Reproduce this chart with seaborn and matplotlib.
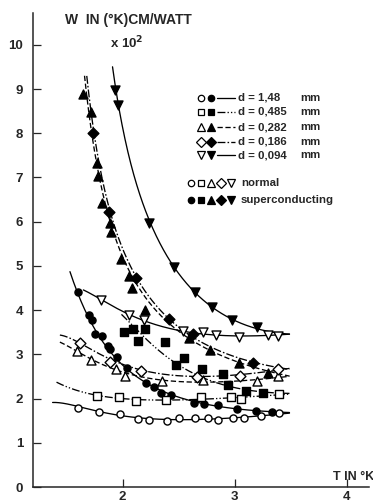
import numpy as np
import matplotlib
matplotlib.use("Agg")
import matplotlib.pyplot as plt
import seaborn as sns

sns.set_style("ticks")
plt.rcParams['font.family'] = ['Liberation Sans', 'DejaVu Sans']

# ---------------- data ----------------
# d = 1.48 mm
circ_open_T = [1.60, 1.79, 1.98, 2.14, 2.24, 2.40, 2.50, 2.65, 2.76, 2.85, 2.99, 3.08, 3.24, 3.40]
circ_open_W = [1.79, 1.70, 1.65, 1.53, 1.52, 1.49, 1.55, 1.55, 1.55, 1.52, 1.55, 1.55, 1.60, 1.68]
circ_fill_T = [1.60, 1.70, 1.73, 1.75, 1.82, 1.87, 1.89, 1.95, 2.04, 2.21, 2.28, 2.34, 2.43, 2.64, 2.73, 2.85, 3.02, 3.19, 3.33]
circ_fill_W = [4.40, 3.89, 3.77, 3.45, 3.42, 3.19, 3.11, 2.95, 2.70, 2.36, 2.26, 2.13, 2.08, 1.90, 1.88, 1.86, 1.77, 1.72, 1.69]
# d = 0.485 mm
sq_open_T = [1.77, 1.97, 2.12, 2.39, 2.70, 2.97, 3.06, 3.40]
sq_open_W = [2.05, 2.03, 1.94, 1.96, 2.04, 2.04, 1.98, 2.10]
sq_fill_T = [2.01, 2.09, 2.14, 2.20, 2.38, 2.48, 2.55, 2.71, 2.90, 2.94, 3.10, 3.25]
sq_fill_W = [3.51, 3.58, 3.30, 3.57, 3.27, 2.75, 2.91, 2.68, 2.55, 2.31, 2.17, 2.13]
# d = 0.282 mm
tri_open_T = [1.59, 1.72, 1.94, 2.02, 2.35, 2.72, 3.20, 3.39]
tri_open_W = [3.08, 2.87, 2.66, 2.52, 2.39, 2.43, 2.39, 2.51]
tri_fill_T = [1.65, 1.72, 1.77, 1.78, 1.82, 1.89, 1.90, 1.99, 2.06, 2.08, 2.20, 2.59, 2.78, 3.04, 3.30]
tri_fill_W = [8.89, 8.48, 7.33, 7.03, 6.42, 5.98, 5.77, 5.16, 4.78, 4.49, 4.01, 3.36, 3.10, 2.81, 2.58]
# d = 0.186 mm
dia_open_T = [1.62, 1.89, 2.16, 2.66, 3.05, 3.39]
dia_open_W = [3.26, 2.83, 2.62, 2.49, 2.52, 2.68]
dia_fill_T = [1.74, 1.88, 2.12, 2.41, 2.63, 3.16]
dia_fill_W = [8.00, 6.22, 4.72, 3.81, 3.47, 2.81]
# d = 0.094 mm
tv_open_T = [1.81, 2.06, 2.19, 2.54, 2.72, 2.83, 3.04, 3.30, 3.39]
tv_open_W = [4.23, 3.89, 3.77, 3.53, 3.51, 3.43, 3.40, 3.43, 3.42]
tv_fill_T = [1.93, 1.96, 2.24, 2.46, 2.65, 2.80, 2.98, 3.20]
tv_fill_W = [8.98, 8.64, 5.97, 4.97, 4.42, 4.06, 3.78, 3.61]

# drawn curves (read as knots along each curve)
c_circ_open_T = [1.375, 1.6, 1.8, 2.0, 2.3, 2.6, 2.9, 3.2, 3.49]
c_circ_open_W = [1.92, 1.80, 1.70, 1.63, 1.55, 1.52, 1.53, 1.58, 1.70]
c_circ_fill_T = [1.53, 1.60, 1.75, 1.9, 2.1, 2.3, 2.5, 2.8, 3.1, 3.49]
c_circ_fill_W = [4.86, 4.40, 3.55, 3.05, 2.55, 2.22, 2.02, 1.86, 1.75, 1.68]
c_sq_open_T = [1.41, 1.6, 1.8, 2.0, 2.3, 2.6, 2.9, 3.2, 3.49]
c_sq_open_W = [2.37, 2.18, 2.06, 2.00, 1.96, 1.98, 2.01, 2.05, 2.10]
c_sq_fill_T = [1.99, 2.2, 2.4, 2.6, 2.8, 3.0, 3.2, 3.49]
c_sq_fill_W = [3.91, 3.35, 2.95, 2.62, 2.38, 2.25, 2.16, 2.12]
c_tri_open_T = [1.44, 1.6, 1.8, 2.0, 2.3, 2.6, 2.9, 3.2, 3.49]
c_tri_open_W = [3.28, 3.05, 2.80, 2.60, 2.43, 2.38, 2.38, 2.42, 2.51]
c_dia_open_T = [1.44, 1.6, 1.8, 2.0, 2.3, 2.6, 2.9, 3.2, 3.49]
c_dia_open_W = [3.45, 3.25, 3.00, 2.80, 2.58, 2.50, 2.50, 2.57, 2.70]
c_tri_fill_T = [1.66, 1.70, 1.76, 1.82, 1.9, 2.0, 2.1, 2.2, 2.4, 2.6, 2.8, 3.0, 3.2, 3.49]
c_tri_fill_W = [9.20, 8.50, 7.60, 6.60, 5.85, 5.20, 4.70, 4.30, 3.75, 3.35, 3.08, 2.84, 2.67, 2.52]
c_dia_fill_T = [1.68, 1.72, 1.78, 1.84, 1.92, 2.0, 2.12, 2.2, 2.4, 2.6, 2.8, 3.0, 3.16, 3.3, 3.49]
c_dia_fill_W = [9.20, 8.50, 7.60, 6.70, 5.90, 5.35, 4.75, 4.45, 3.85, 3.45, 3.15, 2.95, 2.81, 2.73, 2.68]
c_tv_fill_T = [1.91, 1.96, 2.03, 2.15, 2.24, 2.46, 2.65, 2.80, 2.98, 3.20, 3.49]
c_tv_fill_W = [9.51, 8.64, 7.81, 6.67, 5.97, 4.97, 4.42, 4.06, 3.78, 3.58, 3.46]
c_tv_open_T = [1.65, 1.81, 2.0, 2.2, 2.4, 2.6, 2.8, 3.0, 3.2, 3.49]
c_tv_open_W = [4.46, 4.23, 3.97, 3.76, 3.60, 3.50, 3.44, 3.41, 3.42, 3.46]

legend_labels = ["d = 1,48", "d = 0,485", "d = 0,282", "d = 0,186", "d = 0,094"]

# ---------------- figure ----------------
fig = plt.figure(figsize=(3.73, 5.04), dpi=100)
ax = fig.add_axes([33/373, 17/504, 336/373, 474/504])
ax.set_xlim(1.2, 4.2)
ax.set_ylim(0, 10.72)

LW = 0.95
DASHED = (0, (4, 2))
DASHDOTDOT = (0, (6, 1.6, 1, 1.6, 1, 1.6))
DASHDOT = (0, (6, 1.6, 1.2, 1.6))

def smooth(T, W, deg=3):
    T = np.asarray(T, float)
    W = np.asarray(W, float)
    c = np.polyfit(1.0 / T, np.log(W), deg)
    t = np.linspace(T.min(), T.max(), 300)
    return t, np.exp(np.polyval(c, 1.0 / t))

curves = [
    (c_circ_open_T, c_circ_open_W, '-'),
    (c_circ_fill_T, c_circ_fill_W, '-'),
    (c_sq_open_T, c_sq_open_W, DASHDOTDOT),
    (c_sq_fill_T, c_sq_fill_W, DASHDOTDOT),
    (c_tri_open_T, c_tri_open_W, DASHED),
    (c_tri_fill_T, c_tri_fill_W, DASHED),
    (c_dia_open_T, c_dia_open_W, DASHDOT),
    (c_dia_fill_T, c_dia_fill_W, DASHDOT),
    (c_tv_open_T, c_tv_open_W, '-'),
    (c_tv_fill_T, c_tv_fill_W, '-'),
]
for T, W, ls in curves:
    deg = 4 if len(T) > 10 else 3
    t, w = smooth(T, W, deg)
    sns.lineplot(x=t, y=w, ax=ax, color='black', lw=LW, linestyle=ls,
                 sort=False, estimator=None)

points = [
    (circ_open_T, circ_open_W, 'o', 26, False),
    (circ_fill_T, circ_fill_W, 'o', 26, True),
    (sq_open_T, sq_open_W, 's', 36, False),
    (sq_fill_T, sq_fill_W, 's', 36, True),
    (tri_open_T, tri_open_W, '^', 42, False),
    (tri_fill_T, tri_fill_W, '^', 42, True),
    (dia_open_T, dia_open_W, 'D', 30, False),
    (dia_fill_T, dia_fill_W, 'D', 30, True),
    (tv_open_T, tv_open_W, 'v', 42, False),
    (tv_fill_T, tv_fill_W, 'v', 42, True),
]
for T, W, m, s, filled in points:
    sns.scatterplot(x=T, y=W, ax=ax, marker=m, s=s,
                    facecolor='black' if filled else 'white',
                    edgecolor='black', linewidth=1.0, zorder=5)

# axes styling
for side in ['top', 'right']:
    ax.spines[side].set_visible(False)
for side in ['left', 'bottom']:
    ax.spines[side].set_linewidth(1.1)
ax.set_xticks([2, 3, 4])
ax.set_yticks(range(0, 11))
ax.tick_params(direction='in', length=6, width=0.9, labelsize=9.5)
ax.tick_params(axis='y', pad=7)
ax.tick_params(axis='x', pad=3)
for lab in ax.get_xticklabels() + ax.get_yticklabels():
    lab.set_fontweight('bold')

def fx(px):
    return px / 373
def fy(py):
    return 1 - py / 504

fig.text(fx(65), fy(20), "W  IN (°K)CM/WATT", fontsize=10, fontweight='bold',
         va='center', ha='left')
fig.text(fx(110), fy(43), "x 10$^{\\mathbf{2}}$", fontsize=9.5, fontweight='bold',
         va='center', ha='left')
fig.text(fx(333), fy(477), "T IN °K", fontsize=9, fontweight='bold',
         va='center', ha='left')

# legend (drawn manually)
row_y = [98, 112, 127, 142, 155]
mk = ['o', 's', '^', 'D', 'v']
msz = [4.6, 5.0, 5.6, 4.6, 5.6]
lss = ['-', DASHDOTDOT, DASHED, DASHDOT, '-']
for i, y in enumerate(row_y):
    fig.add_artist(plt.Line2D([fx(201)], [fy(y)], marker=mk[i], ms=msz[i], mfc='white',
                              mec='black', mew=0.9, ls='none'))
    fig.add_artist(plt.Line2D([fx(211)], [fy(y)], marker=mk[i], ms=msz[i], mfc='black',
                              mec='black', mew=0.9, ls='none'))
    fig.add_artist(plt.Line2D([fx(217), fx(235)], [fy(y), fy(y)], color='black',
                              lw=LW, ls=lss[i]))
    fig.text(fx(238), fy(y), legend_labels[i], fontsize=8.2, fontweight='bold',
             va='center', ha='left')
    fig.text(fx(300), fy(y), "mm", fontsize=8.2, fontweight='bold', va='center', ha='left')

for j, (y, filled, lab) in enumerate([(183, False, "normal"), (200, True, "superconducting")]):
    for i in range(5):
        fig.add_artist(plt.Line2D([fx(191 + 10 * i)], [fy(y)], marker=mk[i], ms=msz[i],
                                  mfc='black' if filled else 'white', mec='black',
                                  mew=0.9, ls='none'))
    fig.text(fx(241), fy(y), lab, fontsize=8.2, fontweight='bold', va='center', ha='left')

fig.savefig("out.png", dpi=100)
